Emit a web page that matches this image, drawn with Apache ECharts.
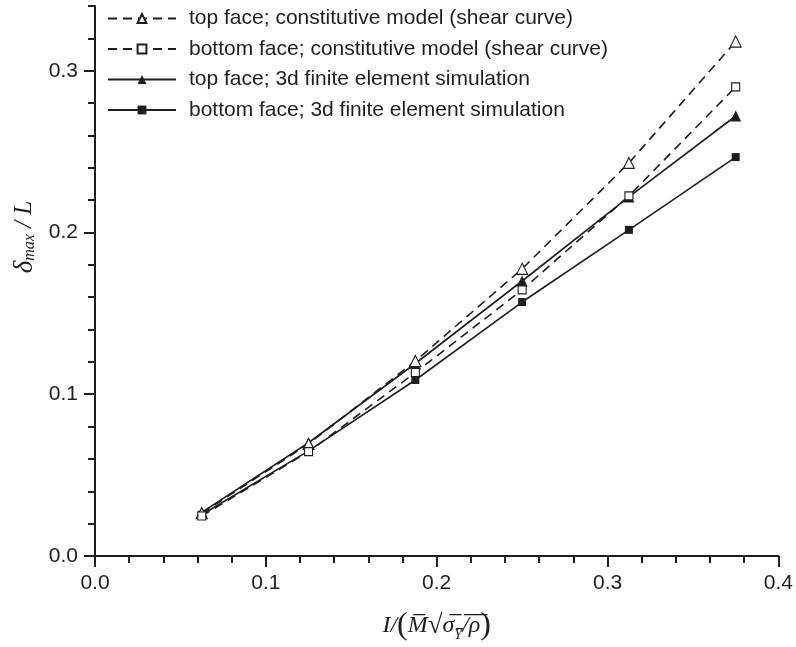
<!DOCTYPE html>
<html>
<head>
<meta charset="utf-8">
<script src="https://cdn.jsdelivr.net/npm/echarts@6/dist/echarts.min.js"></script>
<style>html,body{margin:0;padding:0;background:#fff;}#c{width:796px;height:647px;}</style>
</head>
<body>
<div id="c"></div>
<script>
const xValues = [0.0625, 0.125, 0.1875, 0.25, 0.3125, 0.375];
const topModel = [0.0264, 0.0693, 0.1205, 0.1775, 0.243, 0.318];
const bottomModel = [0.0247, 0.0645, 0.1134, 0.1645, 0.2226, 0.290];
const topFE = [0.027, 0.070, 0.119, 0.170, 0.222, 0.272];
const bottomFE = [0.0255, 0.065, 0.1088, 0.157, 0.2016, 0.2466];
const seriesNames = [
  'top face; constitutive model (shear curve)',
  'bottom face; constitutive model (shear curve)',
  'top face; 3d finite element simulation',
  'bottom face; 3d finite element simulation'
];
const yMajorTicks = [0, 0.1, 0.2, 0.3];

const ink = '#1e1e1e';
const pair = arr => xValues.map((x, i) => [x, arr[i]]);

const chart = echarts.init(document.getElementById('c'));
const sans = 'Liberation Sans, Arial, sans-serif';
const serif = 'Liberation Serif, Times New Roman, serif';

function mkSeries(name, data, symbol, size, open, dashed, z) {
  return {
    name, type: 'line', data: pair(data), xAxisIndex: 0, yAxisIndex: 0,
    symbol, symbolSize: size, showSymbol: true, z,
    lineStyle: { color: ink, width: 1.6, type: dashed ? [9, 6] : 'solid' },
    itemStyle: { color: open ? '#fff' : ink, borderColor: ink, borderWidth: open ? 1.1 : 0 },
    emphasis: { disabled: true }, animation: false
  };
}

chart.setOption({
  animation: false,
  backgroundColor: '#fff',
  grid: { left: 95, right: 17, top: 6, bottom: 91, containLabel: false },
  legend: {
    orient: 'vertical', left: 102, top: 3, itemWidth: 68, itemHeight: 11, itemGap: 9.5,
    textStyle: { fontFamily: sans, fontSize: 21, color: ink, padding: [0, 0, 0, 8] },
    data: seriesNames
  },
  xAxis: [{
    type: 'value', min: 0, max: 0.4, interval: 0.1, position: 'bottom',
    axisLine: { lineStyle: { color: ink, width: 2 } },
    axisTick: { show: true, length: 11, lineStyle: { color: ink, width: 2 } },
    minorTick: { show: true, splitNumber: 5, length: 7, lineStyle: { color: ink, width: 2 } },
    splitLine: { show: false },
    axisLabel: { fontFamily: sans, fontSize: 21, color: ink, margin: 17, formatter: v => v.toFixed(1) },
    name: '{t|I/}{p|(}{t|M\u0305}{r|\u221A}{o|\u03C3\u0305}{os|Y\u0305}{o|/\u0305\u03C1\u0305}{p|)}',
    nameLocation: 'middle', nameGap: 54,
    nameTextStyle: {
      rich: {
        t: { fontFamily: serif, fontStyle: 'italic', fontSize: 24, color: ink },
        p: { fontFamily: serif, fontSize: 32, color: ink },
        r: { fontFamily: serif, fontSize: 27, color: ink },
        o: { fontFamily: serif, fontStyle: 'italic', fontSize: 24, color: ink },
        os: { fontFamily: serif, fontStyle: 'italic', fontSize: 14, color: ink, verticalAlign: 'bottom', lineHeight: 15 }
      }
    }
  }],
  yAxis: [{
    type: 'value', min: 0, max: 0.34, interval: 0.1, position: 'left',
    axisLine: { show: true, lineStyle: { color: ink, width: 2 } },
    axisTick: { show: true, length: 11, customValues: yMajorTicks, lineStyle: { color: ink, width: 2 } },
    splitLine: { show: false },
    axisLabel: { fontFamily: sans, fontSize: 21, color: ink, margin: 17, customValues: yMajorTicks, formatter: v => v.toFixed(1) },
    name: '{d|\u03B4}{s|max}{n| / L}',
    nameLocation: 'middle', nameGap: 45,
    nameTextStyle: {
      padding: [0, 0, 0, 88],
      rich: {
        d: { fontFamily: serif, fontStyle: 'italic', fontSize: 27, color: ink },
        s: { fontFamily: serif, fontStyle: 'italic', fontSize: 16, color: ink, verticalAlign: 'bottom', lineHeight: 17 },
        n: { fontFamily: serif, fontStyle: 'italic', fontSize: 25, color: ink }
      }
    }
  }, {
    type: 'value', min: 0, max: 0.34, interval: 0.02, position: 'left', offset: 0,
    axisLine: { show: false },
    axisTick: { show: true, length: 7, lineStyle: { color: ink, width: 2 } },
    axisLabel: { show: false },
    splitLine: { show: false }
  }],
  series: [
    mkSeries(seriesNames[0], topModel, 'triangle', 11, true, true, 4),
    mkSeries(seriesNames[1], bottomModel, 'rect', 8, true, true, 4),
    mkSeries(seriesNames[2], topFE, 'triangle', 11, false, false, 3),
    mkSeries(seriesNames[3], bottomFE, 'rect', 8, false, false, 3)
  ]
});
</script>
</body>
</html>
